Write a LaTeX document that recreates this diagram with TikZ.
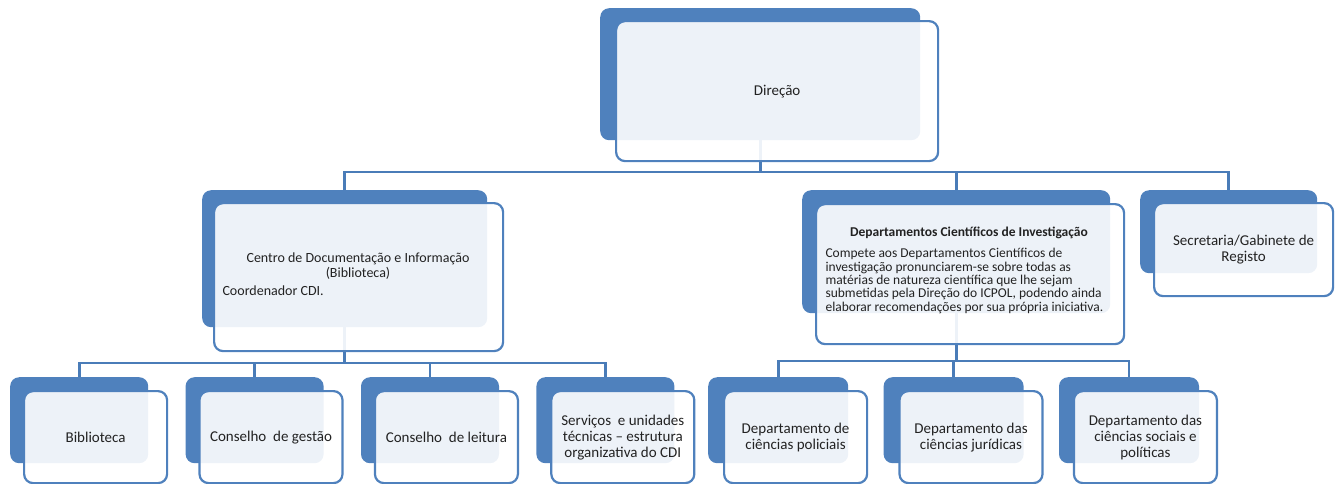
\documentclass[tikz,border=0pt]{standalone}
\usepackage{fontspec}
\setmainfont{Carlito}
\usetikzlibrary{positioning,backgrounds}
\definecolor{boxblue}{HTML}{4F81BD}
\definecolor{lineblue}{HTML}{4A7CB8}
\definecolor{textgray}{HTML}{222222}

\begin{document}
\begin{tikzpicture}[x=1pt,y=-1pt,node distance=37pt,
	backbox/.style={fill=boxblue,rounded corners=9pt,inner sep=0pt},
	frontbox/.style={draw=boxblue,line width=2.2pt,fill=white,fill opacity=0.9,text opacity=1,
		rounded corners=9pt,inner sep=2pt,align=center,text=textgray,font=\fontsize{15}{16}\selectfont},
	lowback/.style={backbox,minimum width=138,minimum height=86},
	lowfront/.style={frontbox,minimum width=143,minimum height=92},
	conn/.style={draw=lineblue,line width=2.6pt}]
\useasboundingbox (0,0) rectangle (1343,483);

% upper boxes
\node[backbox,anchor=north west,minimum width=320,minimum height=132]	(dirB)	at (600,8)	{};
\node[frontbox,minimum width=322,minimum height=140]	(dir)	[below right=12pt and 15pt of dirB.north west]	{Direção};

\node[backbox,anchor=north west,minimum width=285,minimum height=137]	(cdiB)	at (202,190)	{};
\node[frontbox,minimum width=289,minimum height=148]	(cdi)	[below right=12pt and 11pt of cdiB.north west]	{};
\node[text=textgray,align=center,font=\fontsize{14}{15}\selectfont]	(cditit)	at (358,266)	{Centro de Documentação e Informação\\(Biblioteca)};
\node[text=textgray,anchor=west,font=\fontsize{14}{15}\selectfont]	(cdicoord)	at (219,291)	{Coordenador CDI.};

\node[backbox,anchor=north west,minimum width=308,minimum height=123]	(depB)	at (802,190)	{};
\node[frontbox,minimum width=308,minimum height=140]	(dep)	[below right=13pt and 13pt of depB.north west]	{};
\node[text=textgray,font=\bfseries\fontsize{13.5}{14}\selectfont]	(deptit)	at (969,233)	{Departamentos Científicos de Investigação};
\node[text=textgray,anchor=west,align=left,font=\fontsize{13.5}{13.3}\selectfont]	(deptxt)	at (822,281)	{Compete aos Departamentos Científicos de\\investigação pronunciarem-se sobre todas as\\matérias de natureza científica que lhe sejam\\submetidas pela Direção do ICPOL, podendo ainda\\elaborar recomendações por sua própria iniciativa.};

\node[backbox,anchor=north west,minimum width=177,minimum height=83]	(secB)	at (1140,190)	{};
\node[frontbox,minimum width=179,minimum height=93]	(sec)	[below right=12pt and 13pt of secB.north west]	{Secretaria/Gabinete de\\Registo};

% lower row, CDI side
\node[lowback,anchor=north west]	(bibB)	at (10,377)	{};
\node[lowback]	(cgB)	[right=of bibB]	{};
\node[lowback]	(clB)	[right=of cgB]	{};
\node[lowback]	(servB)	[right=of clB]	{};
\node[lowfront]	(bib)	[below right=13pt and 13pt of bibB.north west]	{Biblioteca};
\node[lowfront]	(cg)	[below right=13pt and 13pt of cgB.north west]	{Conselho\ \ de gestão};
\node[lowfront]	(cl)	[below right=13pt and 13pt of clB.north west]	{Conselho\ \ de leitura};
\node[lowfront]	(serv)	[below right=13pt and 14pt of servB.north west]	{Serviços\ \ e unidades\\técnicas – estrutura\\organizativa do CDI};

% lower row, departamentos side
\node[lowback,anchor=north west,minimum width=140]	(dcpB)	at (708,377)	{};
\node[lowback,minimum width=140]	(dcjB)	[right=35pt of dcpB]	{};
\node[lowback,minimum width=140]	(dcsB)	[right=35pt of dcjB]	{};
\node[lowfront]	(dcp)	[below right=13pt and 15pt of dcpB.north west]	{Departamento de\\ciências policiais};
\node[lowfront]	(dcj)	[below right=13pt and 15pt of dcjB.north west]	{Departamento das\\ciências jurídicas};
\node[lowfront]	(dcs)	[below right=13pt and 14pt of dcsB.north west]	{Departamento das\\ciências sociais e\\políticas};

\begin{scope}[on background layer]
\coordinate (bus1) at (dirB.south |- 0,172);
\coordinate (bus2) at (cdiB.south |- 0,363);
\coordinate (bus3) at (depB.south |- 0,361);
\draw[conn]	(dirB.south) -- (bus1) -| (cdiB.north);
\draw[conn]	(bus1) -| (depB.north);
\draw[conn]	(bus1) -| (secB.north);
\draw[conn]	(cdiB.south) -- (bus2) -| (bibB.north);
\draw[conn]	(bus2) -| (cgB.north);
\draw[conn]	(bus2) -| (clB.north);
\draw[conn]	(bus2) -| (servB.north);
\draw[conn]	(depB.south) -- (bus3) -| (dcpB.north);
\draw[conn]	(bus3) -| (dcjB.north);
\draw[conn]	(bus3) -| (dcsB.north);
\end{scope}
\end{tikzpicture}
\end{document}
